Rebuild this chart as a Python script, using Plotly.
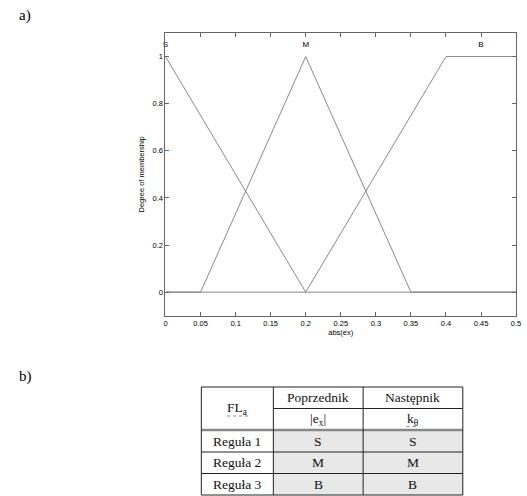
import plotly.graph_objects as go

# Membership functions of abs(ex): breakpoints and degrees
x_S = [0.0, 0.2, 0.5]
y_S = [1.0, 0.0, 0.0]
x_M = [0.0, 0.05, 0.2, 0.35, 0.5]
y_M = [0.0, 0.0, 1.0, 0.0, 0.0]
x_B = [0.0, 0.2, 0.4, 0.5]
y_B = [0.0, 0.0, 1.0, 1.0]

set_names = ["S", "M", "B"]
set_label_x = [0.0, 0.2, 0.45]
set_label_y = 1.05

x_ticks = [0, 0.05, 0.1, 0.15, 0.2, 0.25, 0.3, 0.35, 0.4, 0.45, 0.5]
y_ticks = [0, 0.2, 0.4, 0.6, 0.8, 1]

# Rule table
table_title = "FL<sub>a</sub>"
col_headers = ["Poprzednik", "Następnik"]
col_vars = ["|e<sub>x</sub>|", "k<sub>θ</sub>"]
rule_names = ["Reguła 1", "Reguła 2", "Reguła 3"]
antecedents = ["S", "M", "B"]
consequents = ["S", "M", "B"]

W, H = 527, 496


def px(x):
    return x / W


def py(y):
    return 1 - y / H


fig = go.Figure()
line_color = "#7c7c7c"
for xs, ys in [(x_S, y_S), (x_M, y_M), (x_B, y_B)]:
    fig.add_trace(go.Scatter(x=xs, y=ys, mode="lines",
                             line=dict(color=line_color, width=0.9),
                             showlegend=False, hoverinfo="skip"))

fig.add_trace(go.Scatter(x=set_label_x, y=[set_label_y] * 3, mode="text",
                         text=set_names, textposition="middle center",
                         textfont=dict(family="Liberation Sans", size=8, color="#000"),
                         showlegend=False, hoverinfo="skip", cliponaxis=False))

axis_common = dict(showline=True, linecolor="#666", linewidth=1, mirror="ticks",
                   ticks="inside", ticklen=4, tickcolor="#666", tickwidth=1,
                   showgrid=False, zeroline=False,
                   tickfont=dict(family="Liberation Sans", size=7.5, color="#000"))

fig.update_layout(
    width=W, height=H,
    margin=dict(l=0, r=0, t=0, b=0),
    paper_bgcolor="white", plot_bgcolor="white",
    xaxis=dict(domain=[px(165.7), px(521)], range=[0, 0.5],
               tickvals=x_ticks, ticktext=[f"{v:g}" for v in x_ticks],
               title=dict(text="abs(ex)", standoff=2,
                          font=dict(family="Liberation Sans", size=7.5, color="#000")),
               **axis_common),
    yaxis=dict(domain=[py(315.7), py(33)], range=[-0.1, 1.1],
               tickvals=y_ticks, ticktext=[f"{v:g}" for v in y_ticks],
               title=dict(text="Degree of membership", standoff=6,
                          font=dict(family="Liberation Sans", size=7.5, color="#000")),
               **axis_common),
)

shapes = []
annotations = []
serif = dict(family="Liberation Serif", size=13.5, color="#111", weight=400)

# Panel labels
annotations.append(dict(x=px(15), y=py(16), xref="paper", yref="paper", text="a)",
                        showarrow=False, xanchor="left", yanchor="middle",
                        font=dict(family="Liberation Serif", size=15, color="#000")))
annotations.append(dict(x=px(15), y=py(376), xref="paper", yref="paper", text="b)",
                        showarrow=False, xanchor="left", yanchor="middle",
                        font=dict(family="Liberation Serif", size=15, color="#000")))

# Table geometry (pixels)
cols = [202, 275, 366, 467]
rows = [387, 408.5, 430, 452, 473.5, 495]

# shaded body cells in value columns
shapes.append(dict(type="rect", xref="paper", yref="paper",
                   x0=px(cols[1]), x1=px(cols[3]), y0=py(rows[5]), y1=py(rows[2]),
                   fillcolor="#e8e8e8", line=dict(width=0), layer="below"))


def hline(y, x0, x1, color="#222", width=1, dash="solid"):
    shapes.append(dict(type="line", xref="paper", yref="paper",
                       x0=px(x0), x1=px(x1), y0=py(y), y1=py(y),
                       line=dict(color=color, width=width, dash=dash)))


def vline(x, y0, y1, color="#222", width=1):
    shapes.append(dict(type="line", xref="paper", yref="paper",
                       x0=px(x), x1=px(x), y0=py(y0), y1=py(y1),
                       line=dict(color=color, width=width)))


hline(rows[0], cols[0], cols[3])
hline(rows[1], cols[1], cols[3])
hline(rows[2], cols[0], cols[3], color="#888", width=2.5)
hline(rows[3], cols[0], cols[3])
hline(rows[4], cols[0], cols[3])
hline(rows[5], cols[0], cols[3])
for c in cols:
    vline(c, rows[0], rows[5])

# dotted spell-check underlines below FL and k
hline(416, 228, 250, color="#8a8a8a", width=1, dash="dot")
hline(426.5, 410, 422, color="#8a8a8a", width=1, dash="dot")


def cell_text(text, cx, cy):
    annotations.append(dict(x=px(cx), y=py(cy), xref="paper", yref="paper",
                            text=text, showarrow=False, xanchor="center",
                            yanchor="middle", font=serif))


mid = [(cols[i] + cols[i + 1]) / 2 for i in range(3)]
cell_text(table_title, mid[0], (rows[0] + rows[2]) / 2)
for j, (hdr, var) in enumerate(zip(col_headers, col_vars)):
    cell_text(hdr, mid[j + 1], (rows[0] + rows[1]) / 2)
    cell_text(var, mid[j + 1], (rows[1] + rows[2]) / 2)
for i, (name, a, c) in enumerate(zip(rule_names, antecedents, consequents)):
    cy = (rows[i + 2] + rows[i + 3]) / 2
    cell_text(name, mid[0], cy)
    cell_text(a, mid[1], cy)
    cell_text(c, mid[2], cy)

fig.update_layout(shapes=shapes, annotations=annotations)
fig.write_html("out.html")
